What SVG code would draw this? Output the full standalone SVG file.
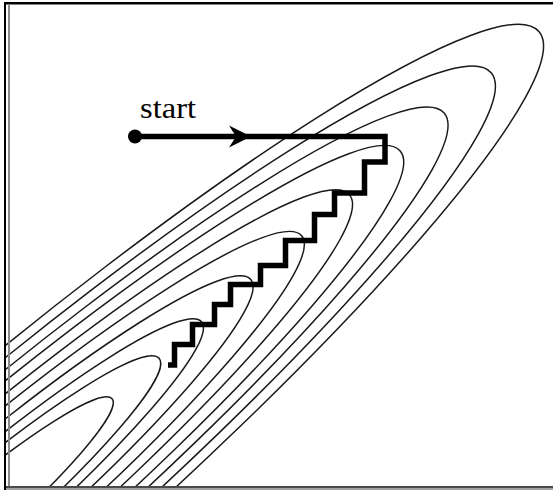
<svg xmlns="http://www.w3.org/2000/svg" width="553" height="490" viewBox="0 0 553 490">
<style>
.contour{fill:none;stroke:#1a1a1a;stroke-width:1.5}
.path{fill:none;stroke:#000;stroke-width:5.5;stroke-linejoin:miter;stroke-linecap:butt}
.label{font-family:"Liberation Serif","Times New Roman",serif;font-size:29px;fill:#000}
</style>
<defs>
<clipPath id="plot"><rect x="6" y="4" width="547" height="486"/></clipPath>
</defs>
<rect x="0" y="0" width="553" height="490" fill="#fff"/>
<g id="contours" clip-path="url(#plot)">
<g transform="translate(-40.3,529.8) rotate(-40.7)">
<ellipse class="contour" rx="764" ry="112.3"/>
<ellipse class="contour" rx="701" ry="103"/>
<ellipse class="contour" rx="639" ry="93.9"/>
<ellipse class="contour" rx="581" ry="85.4"/>
<ellipse class="contour" rx="514" ry="75.6"/>
<ellipse class="contour" rx="451" ry="66.3"/>
<ellipse class="contour" rx="384" ry="56.4"/>
<ellipse class="contour" rx="319" ry="46.9"/>
<ellipse class="contour" rx="263" ry="38.7"/>
<ellipse class="contour" rx="201" ry="29.5"/>
</g>
</g>
<g id="frame">
<rect x="4" y="2" width="549" height="2.5" fill="#000"/>
<rect x="4" y="2" width="2" height="488" fill="#000"/>
<rect x="8" y="4" width="2" height="484" fill="#8a8a8a"/>
<rect x="6" y="486" width="547" height="2" fill="#4a4a4a"/>
<rect x="6" y="488" width="547" height="2" fill="#a0a0a0"/>
</g>
<g id="connectors">
<path id="search-path" class="path" d="M135,136.5 H385 V162 H364.5 V193 H334.5 V214.5 H314.5 V240.5 H285.5 V265.5 H260.5 V284.5 H230.5 V304.5 H214.5 V324.5 H192.5 V344.5 H174.5 V365 H168"/>
<polygon id="arrowhead" points="251,136.5 229,125.5 236,136.5 229,147.5" fill="#000"/>
</g>
<g id="start">
<circle cx="135" cy="136.5" r="7" fill="#000"/>
<text class="label" x="140" y="118" textLength="56" lengthAdjust="spacingAndGlyphs">start</text>
</g>
</svg>
